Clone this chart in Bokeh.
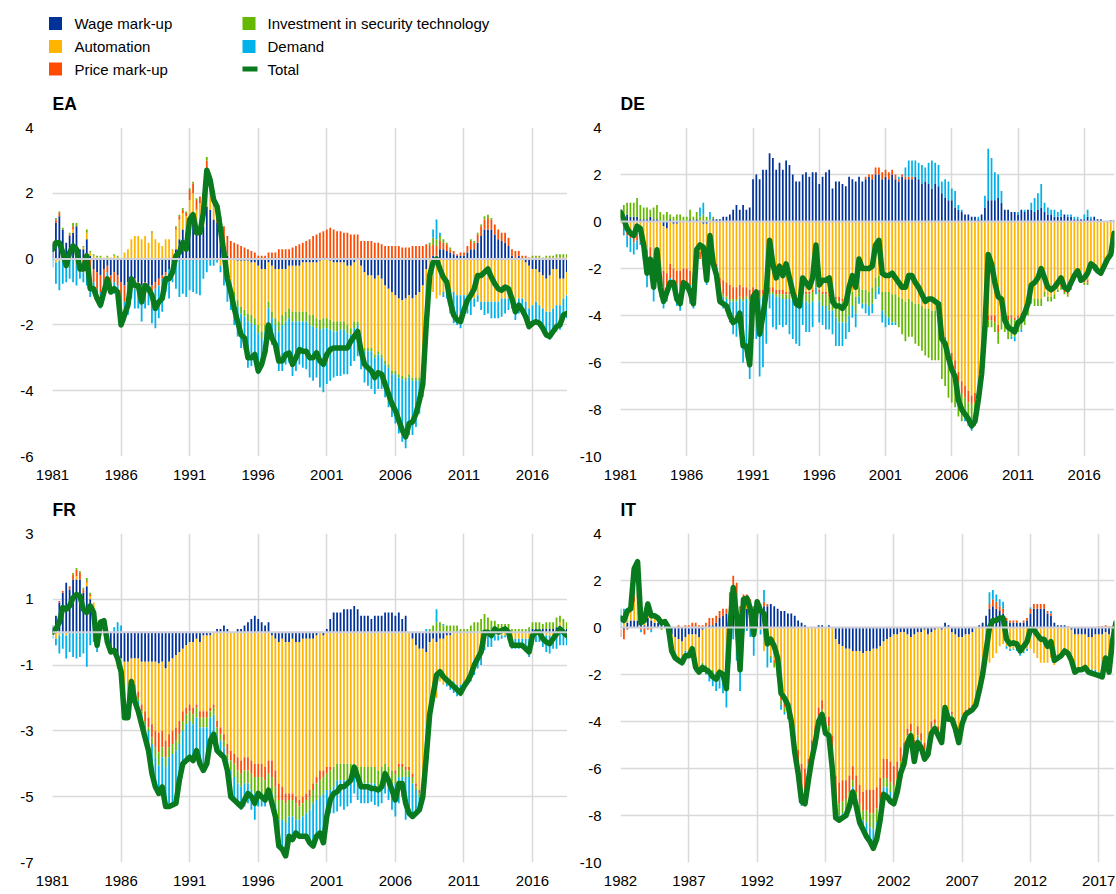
import numpy as np
from bokeh.plotting import figure
from bokeh.models import Range1d, FixedTicker, Span
from bokeh.layouts import column, row
from bokeh.embed import file_html
from bokeh.resources import INLINE
from bokeh.core.properties import value

FONT = "Liberation Sans"
SERIES = ["Wage mark-up", "Automation", "Price mark-up",
          "Investment in security technology", "Demand"]
COLORS = ["#003299", "#FFB400", "#FF4B00", "#65B800", "#00B1EA"]
TOTAL_COLOR = "#0A7A1E"

# ---------------- EA (1981Q1 - 2018Q3) ----------------
ea_start = 1981
ea_total = [
    0.3, 0.5, 0.5, 0.2, -0.2, 0.2, 0.4, 0.3,
    -0.3, -0.3, 0.1, -0.9, -0.9, -1.2, -1.4, -1.0,
    -0.6, -1.0, -0.9, -1.0, -2.0, -1.7, -1.4, -0.6,
    -0.8, -0.8, -1.3, -0.8, -0.9, -1.1, -1.5, -1.3,
    -1.2, -0.6, -0.6, -0.4, 0.1, 0.2, 0.5, 0.3,
    1.2, 1.35, 0.8, 0.8, 1.4, 2.7, 2.4, 1.8,
    1.6, 0.9, 0.2, -0.6, -1.0, -1.5, -1.9, -2.3,
    -2.4, -3.0, -3.0, -2.9, -3.4, -3.2, -2.8, -2.0,
    -2.4, -2.6, -3.1, -3.1, -2.9, -2.85, -3.2, -3.0,
    -2.75, -2.8, -2.8, -3.0, -3.0, -2.85, -3.1, -3.2,
    -2.9, -2.75, -2.7, -2.7, -2.7, -2.7, -2.7, -2.5,
    -2.35, -2.2, -2.8, -3.2, -3.3, -3.4, -3.6, -3.45,
    -3.5, -3.8, -4.1, -4.4, -4.6, -4.9, -5.2, -5.4,
    -5.0, -4.95, -4.7, -4.3, -3.8, -2.0, -0.5, -0.1,
    0.0, -0.3, -0.55, -0.7, -1.3, -1.7, -1.85, -1.9,
    -1.55, -1.25, -1.1, -0.9, -0.5, -0.5, -0.4, -0.3,
    -0.55, -0.75, -0.9, -0.95, -0.85, -0.9, -1.2, -1.6,
    -1.4, -1.55, -1.75, -2.05, -1.95, -1.9, -1.95, -2.1,
    -2.3, -2.35, -2.2, -2.05, -2.0, -1.7, -1.65]
ea_wage = [
    0.5, 1.1, 1.3, 0.9, 0.5, 0.7, 0.8, 1.0,
    0.3, 0.3, 0.6, 0.1, -0.3, -0.4, -0.5, -0.3,
    -0.2, -0.5, -0.4, -0.5, -0.7, -0.8, -0.7, -0.6,
    -0.6, -0.7, -0.8, -0.7, -0.8, -0.8, -0.7, -0.6,
    -0.5, -0.4, -0.3, -0.1, 0.3, 0.6, 0.9, 0.8,
    1.0, 1.2, 0.9, 1.0, 1.0, 1.6, 1.5, 1.2,
    1.1, 0.7, 0.4, 0.1, 0.0, 0.0, -0.05, -0.05,
    -0.05, -0.05, -0.1, -0.1, -0.2, -0.3, -0.3, -0.1,
    -0.2, -0.3, -0.3, -0.3, -0.3, -0.2, -0.2, -0.2,
    -0.2, -0.1, -0.1, -0.1, -0.1, -0.1, -0.05, 0.0,
    0.0, -0.05, -0.1, -0.1, -0.1, -0.1, -0.2, -0.2,
    -0.1, 0.0, -0.2, -0.4, -0.5, -0.5, -0.6, -0.5,
    -0.6, -0.8, -0.9, -1.0, -1.1, -1.2, -1.25, -1.2,
    -1.1, -1.2, -1.1, -1.0, -0.8, -0.3, 0.0, 0.1,
    0.1, 0.3, 0.3, 0.25, 0.2, 0.15, 0.1, 0.1,
    0.1, 0.2, 0.3, 0.3, 0.5, 0.7, 0.9, 0.9,
    0.9, 0.75, 0.6, 0.55, 0.5, 0.4, 0.1, 0.0,
    0.1, 0.0, -0.1, -0.2, -0.3, -0.3, -0.4, -0.5,
    -0.6, -0.5, -0.3, -0.3, -0.6, -0.6, -0.4]
ea_automation = [
    0.0, -0.1, -0.05, 0.0, -0.1, 0.0, 0.1, 0.0,
    0.0, 0.05, 0.2, 0.1, 0.1, 0.05, 0.05, 0.05,
    0.05, 0.05, 0.1, 0.05, 0.0, 0.2, 0.3, 0.6,
    0.7, 0.7, 0.6, 0.7, 0.5, 0.8, 0.6, 0.5,
    0.4, 0.6, 0.6, 0.3, 0.6, 0.6, 0.5, 0.5,
    0.8, 0.8, 0.6, 0.7, 0.6, 0.9, 0.6, 0.4,
    0.0, -0.2, -0.3, -0.5, -0.7, -1.0, -1.2, -1.4,
    -1.5, -1.6, -1.6, -1.7, -1.8, -1.9, -1.7, -1.2,
    -1.4, -1.5, -1.6, -1.4, -1.3, -1.3, -1.4, -1.4,
    -1.4, -1.5, -1.5, -1.6, -1.6, -1.7, -1.8, -1.8,
    -1.8, -1.8, -1.8, -1.8, -1.8, -1.8, -1.8, -1.9,
    -1.8, -1.9, -2.2, -2.3, -2.2, -2.2, -2.3, -2.3,
    -2.3, -2.3, -2.3, -2.4, -2.3, -2.3, -2.3, -2.4,
    -2.4, -2.4, -2.5, -2.6, -2.6, -1.5, -0.6, -1.0,
    -1.2, -1.1, -1.0, -0.9, -0.9, -1.0, -1.1, -1.1,
    -1.1, -1.1, -1.2, -1.2, -1.1, -1.3, -1.3, -1.3,
    -1.3, -1.3, -1.3, -1.2, -1.2, -1.2, -1.2, -1.3,
    -1.2, -1.2, -1.2, -1.3, -1.1, -1.0, -1.0, -1.0,
    -1.0, -1.1, -1.2, -1.1, -0.8, -0.6, -0.7]
ea_price = [
    0.05, 0.1, 0.1, 0.0, -0.1, 0.05, 0.1, 0.0,
    -0.3, -0.4, -0.1, -0.3, -0.4, -0.5, -0.5, -0.4,
    -0.2, -0.3, -0.3, -0.3, -0.6, -0.5, -0.3, -0.2,
    -0.3, -0.2, -0.3, -0.2, -0.2, -0.3, -0.2, -0.2,
    -0.1, -0.1, 0.0, 0.0, 0.05, 0.1, 0.1, 0.1,
    0.3, 0.3, 0.3, 0.2, 0.4, 0.5, 0.5, 0.4,
    0.6, 0.6, 0.6, 0.6, 0.55, 0.5, 0.45, 0.4,
    0.35, 0.3, 0.25, 0.2, 0.1, 0.1, 0.1, 0.2,
    0.2, 0.2, 0.3, 0.3, 0.3, 0.3, 0.35, 0.4,
    0.45, 0.5, 0.55, 0.6, 0.7, 0.75, 0.8, 0.85,
    0.9, 0.95, 0.9, 0.85, 0.85, 0.8, 0.8, 0.75,
    0.75, 0.75, 0.55, 0.55, 0.55, 0.55, 0.5, 0.5,
    0.45, 0.4, 0.4, 0.4, 0.4, 0.4, 0.35, 0.35,
    0.35, 0.4, 0.4, 0.4, 0.4, 0.45, 0.4, 0.35,
    0.3, 0.25, 0.2, 0.2, 0.1, 0.1, 0.05, 0.1,
    0.1, 0.2, 0.25, 0.2, 0.25, 0.3, 0.3, 0.35,
    0.3, 0.3, 0.3, 0.25, 0.3, 0.25, 0.2, 0.25,
    0.15, 0.1, 0.1, 0.05, 0.05, 0.05, 0.05, 0.0,
    0.05, 0.05, 0.05, 0.05, 0.05, 0.05, 0.05]
ea_security = [
    0.0, 0.05, 0.05, 0.05, 0.0, 0.05, 0.1, 0.1,
    0.0, 0.05, 0.1, 0.05, 0.05, 0.05, 0.05, 0.0,
    0.05, 0.0, 0.05, 0.05, 0.0, 0.0, 0.0, 0.0,
    0.0, 0.0, 0.0, 0.0, 0.0, 0.05, 0.0, 0.0,
    0.0, 0.0, 0.0, 0.0, 0.05, 0.05, 0.05, 0.05,
    0.05, 0.05, 0.05, 0.0, 0.0, 0.1, 0.0, 0.0,
    0.0, 0.0, -0.05, -0.1, -0.1, -0.15, -0.2, -0.2,
    -0.2, -0.25, -0.25, -0.2, -0.25, -0.2, -0.2, -0.2,
    -0.2, -0.2, -0.3, -0.3, -0.3, -0.3, -0.3, -0.3,
    -0.3, -0.3, -0.3, -0.3, -0.35, -0.3, -0.3, -0.3,
    -0.3, -0.3, -0.3, -0.3, -0.25, -0.25, -0.25, -0.2,
    -0.2, -0.1, -0.1, -0.1, -0.1, -0.1, -0.1, -0.1,
    -0.1, -0.1, -0.1, -0.1, -0.1, -0.1, -0.1, -0.1,
    -0.1, -0.1, -0.1, -0.1, -0.05, 0.0, 0.1, 0.2,
    0.2, 0.15, 0.1, 0.05, 0.05, 0.0, 0.0, 0.0,
    0.0, 0.0, 0.05, 0.05, 0.05, 0.05, 0.1, 0.1,
    0.05, 0.0, 0.0, 0.0, 0.0, 0.0, 0.0, 0.0,
    0.0, 0.0, 0.0, 0.0, 0.05, 0.05, 0.05, 0.05,
    0.05, 0.05, 0.05, 0.1, 0.1, 0.1, 0.1]
ea_demand = [
    -0.25, -0.65, -0.9, -0.75, -0.5, -0.6, -0.7, -0.8,
    -0.3, -0.3, -0.7, -0.85, -0.35, -0.4, -0.5, -0.35,
    -0.3, -0.25, -0.35, -0.3, -0.7, -0.6, -0.7, -0.4,
    -0.6, -0.6, -0.8, -0.6, -0.4, -0.85, -1.2, -1.0,
    -1.0, -0.5, -0.9, -0.6, -0.9, -1.15, -1.05, -1.15,
    -0.95, -1.0, -1.05, -1.1, -0.6, -0.4, -0.2, -0.2,
    -0.1, -0.2, -0.45, -0.7, -0.75, -0.85, -0.9, -1.05,
    -1.0, -1.4, -1.3, -1.1, -1.25, -0.9, -0.7, -0.7,
    -0.8, -0.8, -1.2, -1.4, -1.3, -1.35, -1.65, -1.5,
    -1.3, -1.4, -1.45, -1.6, -1.65, -1.5, -1.75, -1.95,
    -1.7, -1.55, -1.4, -1.35, -1.4, -1.35, -1.25, -0.95,
    -1.0, -0.95, -0.85, -0.95, -1.05, -1.15, -1.1, -1.05,
    -0.95, -1.0, -1.2, -1.3, -1.5, -1.7, -1.9, -2.05,
    -1.75, -1.65, -1.4, -1.0, -0.75, -0.65, -0.4, 0.25,
    0.6, 0.1, -0.15, -0.3, -0.75, -0.95, -0.9, -1.0,
    -0.65, -0.55, -0.5, -0.25, -0.2, -0.25, -0.4, -0.35,
    -0.5, -0.5, -0.5, -0.55, -0.45, -0.35, -0.3, -0.55,
    -0.45, -0.45, -0.55, -0.6, -0.65, -0.7, -0.65, -0.65,
    -0.8, -0.85, -0.8, -0.8, -0.75, -0.65, -0.7]

# ---------------- DE (1981Q1 - 2018Q2) ----------------
de_start = 1981
de_total = [
    0.4, 0.1, -0.3, -0.5, -0.6, -0.2, -0.3, -1.0,
    -2.2, -1.6, -2.8, -1.2, -2.8, -3.4, -3.0, -2.6,
    -2.6, -3.3, -3.5, -2.6, -2.7, -3.0, -3.5, -1.2,
    -1.0, -1.1, -2.5, -0.6, -1.8, -2.3, -3.4, -3.5,
    -3.6, -4.0, -4.3, -4.2, -3.9, -5.3, -5.3, -6.1,
    -3.2, -3.0, -4.8, -4.0, -3.0, -0.8, -1.8, -2.4,
    -1.9, -2.3, -1.8, -2.4, -3.0, -3.5, -3.6, -2.4,
    -2.6, -2.8, -2.4, -1.0, -2.7, -2.5, -2.5, -2.4,
    -3.4, -3.6, -3.6, -3.7, -3.5, -2.8, -2.3, -2.8,
    -1.6, -2.0, -2.0, -2.0, -1.9, -1.0, -0.8, -2.2,
    -2.3, -2.3, -2.2, -2.4, -2.6, -2.8, -2.8, -2.3,
    -2.3, -2.6, -2.8, -3.1, -3.4, -3.3, -3.3, -3.4,
    -3.5, -5.0, -5.2, -5.8, -6.3, -6.6, -7.6, -8.0,
    -8.2, -8.4, -8.7, -8.5, -7.6, -6.5, -4.5, -1.4,
    -1.8, -2.6, -3.2, -3.3, -4.2, -4.5, -4.6, -4.7,
    -4.3, -4.2, -3.9, -3.5, -2.7, -2.6, -2.4, -2.0,
    -2.4, -2.8, -2.9, -2.8, -2.6, -2.4, -2.8, -2.9,
    -2.6, -2.3, -2.1, -2.5, -2.4, -2.2, -1.8, -1.9,
    -2.1, -2.2, -1.9, -1.6, -1.4, -0.5]
de_wage = [
    0.1, 0.2, 0.3, 0.2, 0.2, 0.2, 0.1, 0.1,
    0.1, 0.2, 0.1, 0.1, 0.0, -0.2, -0.3, 0.1,
    -0.1, -0.1, 0.0, 0.0, 0.0, 0.1, 0.0, 0.1,
    0.0, -0.1, -0.1, 0.0, 0.1, 0.1, 0.1, 0.2,
    0.2, 0.3, 0.5, 0.7, 0.5, 0.7, 0.5, 0.6,
    1.8, 2.0, 1.8, 2.2, 2.2, 2.9, 2.7, 2.2,
    2.5, 2.2, 2.6, 2.4, 2.0, 1.7, 1.7, 2.0,
    2.1, 1.9, 2.1, 2.1, 1.6, 1.9, 2.1, 2.2,
    1.4, 1.7, 1.7, 1.6, 1.5, 1.9, 1.8, 1.7,
    1.9, 1.7, 1.8, 1.9, 1.8, 2.0, 2.0, 1.8,
    1.9, 1.8, 2.0, 1.8, 1.7, 1.9, 1.8, 1.8,
    1.8, 1.9, 1.8, 1.6, 1.7, 1.6, 1.4, 1.6,
    1.5, 1.2, 1.0, 0.9, 0.9, 0.6, 0.5, 0.4,
    0.3, 0.3, 0.2, 0.2, 0.1, 0.3, 0.6, 0.9,
    0.9, 0.9, 1.0, 0.8, 0.5, 0.5, 0.4, 0.4,
    0.3, 0.5, 0.4, 0.5, 0.5, 0.4, 0.5, 0.6,
    0.4, 0.3, 0.3, 0.2, 0.2, 0.2, 0.3, 0.2,
    0.2, 0.1, 0.1, 0.1, 0.1, 0.2, 0.1, 0.2,
    0.1, 0.1, 0.0, 0.0, 0.05, 0.05]
de_automation = [
    -0.1, -0.1, -0.3, -0.3, -0.4, -0.5, -0.6, -0.8,
    -1.2, -1.1, -1.6, -1.2, -1.8, -1.9, -1.9, -1.8,
    -1.9, -2.0, -2.1, -2.0, -2.0, -2.1, -2.2, -1.3,
    -1.3, -1.4, -2.0, -0.8, -1.6, -1.8, -2.4, -2.5,
    -2.6, -2.7, -2.8, -2.8, -2.7, -2.8, -2.8, -2.9,
    -2.8, -2.9, -2.9, -2.9, -2.9, -2.8, -2.8, -2.9,
    -2.9, -2.9, -3.0, -3.0, -3.0, -3.1, -3.1, -3.0,
    -3.0, -3.0, -2.9, -2.3, -2.9, -3.0, -3.0, -3.1,
    -3.1, -3.2, -3.2, -3.3, -3.3, -3.2, -3.0, -3.2,
    -2.8, -2.9, -2.9, -3.0, -2.8, -2.4, -2.3, -3.0,
    -3.0, -3.0, -3.1, -3.1, -3.2, -3.3, -3.4, -3.3,
    -3.4, -3.5, -3.5, -3.6, -3.7, -3.7, -3.8, -3.8,
    -3.9, -4.6, -4.9, -5.4, -5.6, -5.9, -6.4, -6.8,
    -7.0, -7.2, -7.4, -7.3, -7.0, -6.0, -5.0, -4.0,
    -4.0, -4.0, -4.4, -3.8, -3.8, -4.0, -4.0, -4.1,
    -4.0, -3.9, -3.8, -3.5, -3.2, -3.3, -3.3, -3.3,
    -3.0, -3.2, -3.2, -3.1, -2.9, -2.7, -2.9, -3.0,
    -2.7, -2.3, -2.1, -2.4, -2.5, -2.5, -1.9, -1.9,
    -2.0, -2.1, -1.8, -1.5, -1.4, -0.5]
de_price = [
    0.0, -0.1, -0.3, -0.4, -0.5, -0.3, -0.3, -0.5,
    -0.7, -0.6, -0.8, -0.5, -0.8, -0.9, -0.7, -0.6,
    -0.7, -0.8, -0.8, -0.6, -0.7, -0.6, -0.8, -0.3,
    -0.3, -0.4, -0.5, -0.2, -0.3, -0.4, -0.6, -0.6,
    -0.6, -0.6, -0.5, -0.5, -0.5, -0.5, -0.4, -0.4,
    -0.3, -0.3, -0.3, -0.2, -0.2, -0.2, -0.2, -0.2,
    -0.2, -0.2, -0.1, -0.1, -0.1, -0.1, -0.1, -0.1,
    -0.1, -0.1, -0.1, -0.1, -0.1, -0.1, -0.1, -0.1,
    -0.1, -0.1, -0.2, -0.1, -0.1, -0.1, 0.0, 0.0,
    0.0, 0.0, 0.1, 0.1, 0.2, 0.3, 0.3, 0.3,
    0.3, 0.3, 0.2, 0.2, 0.1, 0.1, 0.1, 0.1,
    0.1, 0.0, 0.0, 0.0, 0.0, 0.0, 0.0, 0.0,
    0.0, -0.1, -0.1, -0.2, -0.3, -0.4, -0.5, -0.5,
    -0.5, -0.5, -0.4, -0.4, -0.4, -0.4, -0.3, -0.2,
    -0.2, -0.3, -0.3, -0.2, -0.2, -0.2, -0.1, -0.1,
    -0.1, -0.1, -0.1, -0.1, 0.0, 0.0, 0.0, 0.0,
    0.0, 0.0, 0.0, 0.0, 0.0, -0.1, -0.1, -0.1,
    -0.1, -0.1, -0.1, -0.1, -0.1, -0.1, -0.1, -0.1,
    -0.1, -0.1, -0.1, -0.1, 0.0, 0.0]
de_security = [
    0.4, 0.5, 0.5, 0.6, 0.6, 0.8, 0.6, 0.5,
    0.5, 0.3, 0.5, 0.6, 0.4, 0.3, 0.4, 0.2,
    0.2, 0.3, 0.3, 0.2, 0.2, 0.4, 0.2, 0.3,
    0.2, 0.3, 0.2, 0.1, 0.1, 0.0, 0.0, -0.1,
    -0.1, -0.1, -0.1, -0.1, -0.1, -0.1, -0.1, -0.1,
    -0.1, -0.1, -0.1, -0.1, -0.1, -0.1, -0.1, -0.1,
    -0.1, -0.2, -0.2, -0.2, -0.2, -0.3, -0.3, -0.3,
    -0.3, -0.4, -0.4, -0.4, -0.4, -0.5, -0.5, -0.6,
    -0.6, -0.8, -0.9, -0.9, -0.9, -0.7, -0.6, -0.7,
    -0.4, -0.6, -0.6, -0.6, -0.7, -0.6, -0.5, -0.8,
    -1.0, -1.1, -1.2, -1.2, -1.3, -1.5, -1.7, -1.6,
    -1.5, -1.7, -1.8, -1.9, -2.0, -2.1, -2.1, -2.1,
    -2.0, -2.0, -2.0, -1.9, -1.8, -1.6, -1.4, -1.2,
    -0.7, -0.6, -0.6, -0.5, -0.4, -0.4, -0.3, -0.3,
    -0.3, -0.4, -0.5, -0.6, -0.7, -0.8, -0.8, -0.7,
    -0.6, -0.6, -0.5, -0.4, -0.3, -0.3, -0.3, -0.3,
    -0.2, -0.2, -0.2, -0.2, -0.1, -0.1, -0.1, -0.1,
    -0.1, -0.1, -0.1, -0.1, -0.1, -0.1, 0.0, -0.1,
    0.0, 0.0, 0.0, 0.0, 0.0, 0.0]
de_demand = [
    0.0, -0.4, -0.5, -0.6, -0.5, -0.4, -0.1, -0.3,
    -0.9, -0.4, -1.0, -0.2, -0.6, -0.7, -0.5, -0.5,
    -0.1, -0.7, -0.9, -0.2, -0.2, -0.8, -0.7, 0.0,
    0.4, 0.5, -0.1, 0.3, -0.1, -0.2, -0.5, -0.5,
    -0.5, -0.9, -1.4, -1.5, -1.1, -2.6, -2.5, -3.3,
    -1.8, -1.7, -3.3, -3.0, -2.0, -0.6, -1.4, -1.4,
    -1.2, -1.2, -1.1, -1.5, -1.7, -1.7, -1.8, -1.0,
    -1.3, -1.2, -1.1, -0.3, -0.9, -0.8, -1.0, -0.8,
    -1.0, -1.2, -1.0, -1.0, -0.7, -0.7, -0.5, -0.6,
    -0.3, -0.2, -0.4, -0.4, -0.4, -0.3, -0.3, -0.5,
    -0.5, -0.3, -0.1, -0.1, 0.1, 0.0, 0.4, 0.7,
    0.7, 0.7, 0.7, 0.8, 0.6, 0.9, 1.2, 0.9,
    0.9, 0.5, 0.8, 0.8, 0.5, 0.7, 0.2, 0.1,
    -0.3, -0.4, -0.5, -0.5, 0.1, 0.0, 0.5, 2.2,
    1.8, 1.2, 1.0, 0.5, 0.0, 0.0, -0.1, -0.2,
    0.1, -0.1, 0.1, 0.0, 0.3, 0.6, 0.7, 1.0,
    0.4, 0.3, 0.2, 0.3, 0.2, 0.3, 0.0, 0.1,
    0.1, 0.1, 0.1, 0.0, 0.2, 0.3, 0.1, 0.0,
    -0.1, -0.1, 0.0, 0.0, -0.05, -0.05]

# ---------------- FR (1981Q1 - 2018Q3) ----------------
fr_start = 1981
fr_total = [
    0.0, 0.1, 0.3, 0.75, 0.7, 0.8, 1.05, 1.15,
    1.1, 0.7, 0.6, 0.8, 0.6, -0.4, 0.3, 0.35,
    -0.3, -0.6, -0.55, -0.8, -1.2, -2.6, -2.6, -1.5,
    -2.1, -2.4, -2.8, -3.2, -3.6, -4.3, -4.7, -4.9,
    -4.7, -5.3, -5.3, -5.25, -5.2, -4.5, -4.0, -3.9,
    -3.8, -3.9, -3.6, -4.0, -4.2, -4.0, -3.3, -3.1,
    -3.6, -3.7, -3.8, -4.2, -5.0, -5.1, -5.2, -5.3,
    -5.1, -4.9, -5.0, -5.2, -4.9, -5.0, -5.1, -4.8,
    -5.2, -5.6, -6.5, -6.6, -6.8, -6.2, -6.3, -6.1,
    -6.2, -6.2, -6.2, -6.4, -6.5, -6.2, -6.1, -6.4,
    -5.6, -5.1, -4.9, -4.85, -4.7, -4.7, -4.6, -4.5,
    -4.1, -4.4, -4.7, -4.7, -4.7, -4.75, -4.75, -4.8,
    -4.7, -4.3, -4.5, -4.8, -5.1, -4.6, -4.6, -5.2,
    -5.5, -5.6, -5.5, -5.4, -5.0, -3.8, -2.5, -1.9,
    -1.3, -1.2, -1.35, -1.45, -1.55, -1.65, -1.75, -1.85,
    -1.65, -1.5, -1.3, -1.0, -0.8, -0.6, 0.0, 0.0,
    -0.1, 0.1, 0.0, 0.05, 0.1, 0.0, -0.4, -0.4,
    -0.4, -0.4, -0.5, -0.6, -0.1, 0.0, 0.0, -0.2,
    -0.3, -0.35, -0.2, -0.05, 0.1, 0.0, -0.1]
fr_wage = [
    0.2, 0.5, 0.9, 1.2, 1.5, 1.3, 1.6, 1.6,
    1.6, 1.2, 1.4, 1.0, 0.7, 0.2, 0.3, 0.1,
    -0.3, -0.5, -0.6, -0.8, -0.8, -0.9, -0.9, -0.8,
    -0.8, -0.8, -0.9, -0.9, -0.9, -0.9, -0.9, -0.95,
    -0.9, -1.1, -0.9, -0.8, -0.7, -0.6, -0.5, -0.4,
    -0.3, -0.3, -0.2, -0.3, -0.1, -0.1, -0.1, 0.0,
    0.1, 0.1, 0.2, 0.1, 0.0, 0.0, 0.1, 0.1,
    0.2, 0.3, 0.4, 0.5, 0.4, 0.3, 0.2, 0.3,
    -0.1, -0.2, -0.3, -0.2, -0.3, -0.3, -0.2, -0.3,
    -0.3, -0.2, -0.2, -0.2, -0.2, -0.1, 0.0, -0.1,
    0.1, 0.4, 0.6, 0.6, 0.6, 0.7, 0.7, 0.7,
    0.8, 0.7, 0.5, 0.5, 0.5, 0.4, 0.5, 0.5,
    0.5, 0.6, 0.6, 0.6, 0.5, 0.6, 0.4, 0.5,
    0.0, -0.2, -0.4, -0.5, -0.5, -0.6, -0.3, -0.2,
    -0.3, -0.2, -0.2, -0.1, -0.1, 0.0, 0.0, 0.0,
    0.0, 0.0, 0.0, 0.0, 0.0, 0.0, 0.05, 0.05,
    0.05, 0.05, 0.05, 0.05, 0.05, 0.05, 0.0, 0.0,
    0.0, 0.0, 0.0, 0.05, 0.1, 0.1, 0.1, 0.1,
    0.1, 0.1, 0.1, 0.15, 0.2, 0.1, 0.1]
fr_automation = [
    -0.1, -0.2, -0.1, 0.0, -0.1, 0.0, 0.0, 0.1,
    0.0, 0.0, 0.1, 0.1, 0.2, 0.0, 0.1, 0.1,
    0.0, -0.1, -0.1, -0.2, -0.4, -1.2, -1.3, -0.6,
    -0.8, -1.0, -1.3, -1.5, -1.7, -1.9, -2.1, -2.1,
    -2.1, -2.2, -2.2, -2.2, -2.2, -2.1, -1.9, -1.9,
    -1.9, -2.0, -2.0, -2.1, -2.3, -2.3, -2.2, -2.2,
    -2.7, -2.9, -3.1, -3.4, -3.6, -3.7, -3.8, -3.9,
    -3.8, -3.8, -3.9, -4.0, -4.0, -4.0, -4.1, -3.9,
    -3.8, -4.0, -4.3, -4.5, -4.6, -4.6, -4.7, -4.7,
    -4.8, -4.8, -4.7, -4.6, -4.4, -4.3, -4.2, -4.1,
    -4.1, -4.1, -4.1, -4.0, -4.0, -4.0, -4.0, -4.0,
    -4.0, -4.1, -4.1, -4.1, -4.1, -4.1, -4.1, -4.2,
    -4.1, -4.0, -4.1, -4.2, -4.2, -4.0, -4.0, -4.1,
    -4.1, -4.1, -4.2, -4.3, -4.2, -3.3, -2.1, -1.8,
    -1.7, -1.3, -1.4, -1.4, -1.4, -1.5, -1.6, -1.6,
    -1.5, -1.4, -1.2, -0.9, -0.7, -0.5, -0.2, -0.1,
    -0.1, -0.1, -0.1, -0.1, -0.1, -0.1, -0.2, -0.2,
    -0.2, -0.2, -0.2, -0.2, -0.1, -0.1, -0.1, -0.1,
    -0.1, -0.1, -0.1, -0.1, 0.1, 0.0, -0.1]
fr_price = [
    0.0, 0.0, 0.05, 0.05, 0.0, 0.1, 0.15, 0.2,
    0.2, 0.1, 0.05, 0.05, 0.0, 0.0, 0.0, 0.0,
    0.0, 0.0, 0.0, 0.0, -0.1, -0.2, -0.2, -0.1,
    -0.2, -0.2, -0.2, -0.3, -0.3, -0.4, -0.5, -0.6,
    -0.5, -0.5, -0.4, -0.4, -0.4, -0.4, -0.3, -0.2,
    -0.2, -0.2, -0.1, -0.2, -0.2, -0.2, -0.1, -0.1,
    -0.2, -0.2, -0.2, -0.3, -0.3, -0.3, -0.4, -0.4,
    -0.4, -0.4, -0.4, -0.4, -0.4, -0.4, -0.4, -0.4,
    -0.5, -0.5, -0.5, -0.4, -0.3, -0.2, -0.2, -0.2,
    -0.2, -0.2, -0.2, -0.2, -0.2, -0.2, -0.3, -0.2,
    -0.2, -0.1, 0.0, 0.0, 0.0, 0.0, 0.0, 0.0,
    0.0, 0.0, 0.0, 0.0, 0.0, 0.0, 0.0, 0.0,
    0.0, 0.0, 0.0, 0.0, -0.1, -0.1, -0.1, -0.1,
    -0.1, -0.1, -0.1, -0.1, -0.1, 0.0, 0.0, 0.0,
    0.0, 0.0, 0.0, 0.0, 0.0, 0.0, 0.0, 0.0,
    0.0, 0.0, 0.0, 0.0, 0.0, 0.0, 0.0, 0.0,
    0.0, 0.0, 0.0, 0.0, 0.0, 0.0, 0.0, 0.0,
    0.0, 0.0, 0.0, 0.0, 0.0, 0.0, 0.0, 0.0,
    0.0, 0.0, 0.0, 0.0, 0.0, 0.0, 0.0]
fr_security = [
    0.0, 0.0, 0.0, 0.0, 0.0, 0.0, 0.05, 0.05,
    0.05, 0.05, 0.1, 0.05, 0.0, 0.0, 0.0, 0.0,
    0.0, 0.0, 0.0, -0.1, -0.1, -0.1, -0.1, 0.0,
    -0.1, -0.1, -0.1, -0.1, -0.1, -0.2, -0.3, -0.4,
    -0.3, -0.3, -0.3, -0.3, -0.3, -0.3, -0.3, -0.3,
    -0.3, -0.3, -0.3, -0.3, -0.3, -0.3, -0.2, -0.2,
    -0.2, -0.2, -0.2, -0.2, -0.3, -0.4, -0.4, -0.4,
    -0.4, -0.4, -0.5, -0.5, -0.5, -0.5, -0.5, -0.5,
    -0.5, -0.5, -0.6, -0.6, -0.6, -0.5, -0.5, -0.5,
    -0.4, -0.4, -0.4, -0.4, -0.4, -0.5, -0.5, -0.5,
    -0.5, -0.6, -0.6, -0.5, -0.5, -0.5, -0.5, -0.5,
    -0.4, -0.4, -0.5, -0.5, -0.5, -0.5, -0.5, -0.5,
    -0.5, -0.4, -0.4, -0.4, -0.3, -0.3, -0.3, -0.2,
    -0.2, -0.2, -0.1, -0.1, -0.1, 0.0, 0.1, 0.2,
    0.3, 0.3, 0.2, 0.2, 0.2, 0.2, 0.2, 0.1,
    0.1, 0.1, 0.2, 0.3, 0.3, 0.4, 0.5, 0.4,
    0.3, 0.3, 0.2, 0.2, 0.2, 0.2, 0.1, 0.1,
    0.1, 0.1, 0.1, 0.1, 0.2, 0.2, 0.2, 0.15,
    0.2, 0.2, 0.2, 0.3, 0.2, 0.3, 0.2]
fr_demand = [
    -0.1, -0.2, -0.55, -0.5, -0.7, -0.6, -0.75, -0.8,
    -0.75, -0.65, -1.05, -0.4, -0.3, -0.6, -0.1, 0.15,
    0.0, 0.0, 0.15, 0.3, 0.2, -0.2, -0.1, 0.0,
    -0.2, -0.3, -0.3, -0.4, -0.6, -0.9, -0.9, -0.85,
    -0.9, -1.2, -1.5, -1.55, -1.6, -1.1, -1.0, -1.1,
    -1.1, -1.1, -1.0, -1.1, -1.3, -1.1, -0.7, -0.6,
    -0.6, -0.5, -0.5, -0.4, -0.8, -0.7, -0.7, -0.7,
    -0.7, -0.6, -0.6, -0.8, -0.4, -0.4, -0.3, -0.3,
    -0.3, -0.4, -0.8, -0.9, -1.0, -0.6, -0.7, -0.4,
    -0.5, -0.6, -0.7, -1.0, -1.3, -1.1, -1.1, -1.5,
    -0.9, -0.7, -0.8, -0.95, -0.8, -0.9, -0.8, -0.7,
    -0.5, -0.6, -0.6, -0.6, -0.6, -0.55, -0.65, -0.6,
    -0.6, -0.5, -0.6, -0.8, -1.0, -0.8, -0.6, -1.3,
    -1.1, -1.0, -0.7, -0.4, -0.1, 0.1, -0.2, -0.1,
    0.4, 0.0, 0.05, -0.15, -0.25, -0.35, -0.35, -0.35,
    -0.25, -0.2, -0.3, -0.4, -0.4, -0.5, -0.35, -0.35,
    -0.35, -0.15, -0.15, -0.1, -0.05, -0.15, -0.3, -0.3,
    -0.3, -0.3, -0.4, -0.55, -0.3, -0.2, -0.2, -0.35,
    -0.5, -0.55, -0.4, -0.4, -0.4, -0.4, -0.3]

# ---------------- IT (1982Q1 - 2018Q2) ----------------
it_start = 1982
it_total = [
    0.4, 0.3, 0.7, 0.8, 2.5, 2.8, 0.2, 0.3,
    1.0, 0.5, 0.5, 0.4, 0.2, 0.25, 0.0, -1.0,
    -1.3, -1.4, -1.5, -1.2, -1.2, -0.9, -1.7, -1.9,
    -1.7, -1.8, -1.9, -2.1, -2.2, -1.9, -2.0, -2.6,
    0.0, 1.7, 0.5, -1.8, 1.2, 1.25, 0.8, -0.3,
    1.1, 0.7, 0.6, -0.7, -0.5, -0.8, -1.3, -2.8,
    -3.0, -3.3, -4.0, -5.3, -6.2, -7.4, -7.5, -6.5,
    -5.6, -4.9, -4.0, -3.7, -4.5, -4.6, -6.0, -8.1,
    -8.2, -8.1, -8.0, -7.6, -7.0, -7.6, -8.3, -8.6,
    -8.9, -9.1, -9.4, -9.0, -8.2, -7.1, -7.2, -7.4,
    -7.5, -7.0, -6.2, -5.8, -4.9, -4.6, -5.7, -4.9,
    -5.1, -5.6, -5.4, -4.5, -4.3, -4.6, -4.9, -3.4,
    -3.9, -3.9, -4.3, -4.9, -4.1, -3.7, -3.6, -3.5,
    -3.3, -2.7, -2.0, -1.0, 0.0, 0.3, 0.3, 0.4,
    0.4, -0.5, -0.7, -0.65, -0.7, -1.0, -0.8, -0.6,
    -0.05, -0.1, -0.3, -0.5, -0.5, -0.8, -0.6, -1.4,
    -1.3, -1.2, -1.0, -1.1, -1.4, -1.9, -1.8, -1.8,
    -1.7, -1.9, -1.95, -2.0, -2.05, -2.1, -1.3, -1.9,
    -0.6, 0.2]
it_wage = [
    0.0, -0.1, 0.2, 0.3, 0.3, 0.3, 0.2, 0.1,
    0.4, 0.3, 0.2, 0.2, 0.2, 0.1, 0.0, -0.3,
    -0.4, -0.5, -0.6, -0.4, -0.3, -0.3, -0.3, -0.4,
    -0.1, 0.0, 0.1, 0.1, 0.2, 0.4, 0.5, 0.6,
    0.6, 0.7, 0.6, 0.6, 0.8, 0.8, 0.8, 0.8,
    0.8, 0.8, 0.9, 0.9, 1.0, 0.9, 0.8, 0.7,
    0.7, 0.6, 0.6, 0.5, 0.3, 0.2, 0.1, 0.0,
    0.0, 0.0, 0.1, 0.1, 0.0, 0.1, 0.0, -0.5,
    -0.7, -0.8, -0.9, -0.9, -1.0, -1.0, -1.0, -1.1,
    -1.0, -1.0, -0.9, -0.9, -0.8, -0.6, -0.5, -0.4,
    -0.3, -0.3, -0.2, -0.2, -0.3, -0.4, -0.3, -0.2,
    -0.2, -0.1, -0.3, -0.2, -0.1, 0.0, -0.1, 0.2,
    0.1, -0.2, -0.3, -0.4, -0.4, -0.3, -0.3, -0.2,
    0.0, 0.1, 0.2, 0.5, 0.8, 0.9, 0.8, 0.7,
    0.6, 0.3, 0.2, 0.2, 0.2, 0.2, 0.2, 0.3,
    0.6, 0.8, 0.8, 0.8, 0.8, 0.6, 0.5, 0.2,
    0.1, 0.1, 0.1, 0.0, -0.1, -0.3, -0.3, -0.3,
    -0.3, -0.4, -0.4, -0.3, -0.3, -0.3, -0.2, -0.3,
    -0.1, 0.0]
it_automation = [
    -0.1, 0.2, 0.3, 0.4, 0.8, 0.9, 0.2, 0.2,
    0.5, 0.4, 0.3, 0.2, 0.1, 0.1, 0.0, -0.5,
    -0.8, -0.8, -0.7, -0.6, -0.9, -0.6, -1.2, -1.3,
    -1.4, -1.6, -1.7, -1.8, -1.9, -2.0, -2.0, -2.1,
    -0.2, 0.5, 0.4, -0.3, 0.3, 0.3, 0.2, 0.0,
    0.1, -0.1, -1.0, -0.6, -1.2, -1.4, -1.8, -2.9,
    -3.2, -3.5, -4.0, -4.6, -5.2, -5.8, -6.0, -5.6,
    -4.8, -4.2, -3.4, -3.1, -3.8, -3.8, -4.6, -5.8,
    -5.9, -5.7, -5.6, -5.4, -4.9, -5.3, -5.7, -5.9,
    -5.9, -5.9, -6.0, -5.9, -5.6, -5.0, -5.1, -5.3,
    -5.6, -5.4, -4.9, -4.7, -4.0, -3.7, -4.5, -4.0,
    -4.3, -4.8, -4.5, -3.8, -3.8, -4.2, -4.3, -3.4,
    -3.7, -3.4, -3.7, -4.1, -3.4, -3.2, -3.1, -3.1,
    -3.2, -2.6, -2.1, -1.4, -1.5, -1.3, -1.1, -0.8,
    -0.7, -0.8, -0.9, -0.9, -0.9, -1.1, -1.0, -0.9,
    -0.9, -1.1, -1.3, -1.5, -1.5, -1.5, -1.3, -1.6,
    -1.4, -1.3, -1.1, -1.1, -1.3, -1.5, -1.4, -1.4,
    -1.3, -1.4, -1.4, -1.5, -1.6, -1.6, -1.0, -1.4,
    -0.4, 0.1]
it_price = [
    -0.3, -0.4, -0.1, 0.0, 0.2, 0.3, -0.1, -0.3,
    -0.1, -0.1, 0.0, 0.0, 0.0, 0.0, 0.0, -0.1,
    0.0, 0.1, 0.0, 0.1, 0.1, 0.2, 0.2, 0.1,
    0.1, 0.2, 0.3, 0.3, 0.3, 0.3, 0.3, 0.2,
    0.9, 1.0, 0.9, 0.3, 0.3, 0.3, 0.2, 0.1,
    0.2, 0.2, 0.2, 0.1, 0.0, -0.1, -0.1, -0.2,
    -0.2, -0.2, -0.3, -0.6, -0.8, -1.0, -0.9, -0.6,
    -0.5, -0.5, -0.4, -0.4, -0.4, -0.4, -0.8, -1.0,
    -0.9, -0.9, -0.8, -0.7, -0.6, -0.7, -0.8, -0.8,
    -0.9, -1.0, -1.0, -0.9, -0.9, -0.8, -0.8, -0.9,
    -0.8, -0.7, -0.6, -0.5, -0.3, -0.3, -0.5, -0.4,
    -0.3, -0.4, -0.4, -0.3, -0.2, -0.2, -0.3, -0.1,
    -0.1, -0.1, -0.1, -0.2, -0.1, -0.1, -0.1, -0.1,
    -0.1, -0.1, 0.0, 0.0, 0.2, 0.3, 0.3, 0.2,
    0.2, 0.1, 0.1, 0.1, 0.1, 0.0, 0.1, 0.1,
    0.2, 0.2, 0.2, 0.2, 0.2, 0.1, 0.1, 0.0,
    0.0, 0.0, 0.0, 0.05, 0.0, -0.05, 0.0, 0.0,
    0.0, 0.0, 0.0, 0.0, 0.05, 0.05, 0.1, 0.05,
    0.05, 0.05]
it_security = [
    0.0, 0.0, 0.0, 0.0, 0.1, 0.1, 0.0, 0.0,
    0.0, 0.0, 0.0, 0.0, -0.1, 0.0, 0.0, 0.0,
    0.0, 0.0, 0.0, 0.0, 0.0, 0.0, 0.0, 0.0,
    -0.1, -0.1, -0.1, -0.1, -0.1, -0.1, -0.1, -0.1,
    0.0, 0.0, 0.0, 0.0, 0.0, 0.0, 0.0, 0.0,
    0.0, 0.0, 0.0, 0.0, -0.1, -0.2, -0.2, -0.2,
    -0.2, -0.2, -0.2, -0.3, -0.3, -0.4, -0.4, -0.3,
    -0.2, -0.2, -0.2, -0.2, -0.2, -0.3, -0.4, -0.5,
    -0.5, -0.5, -0.5, -0.4, -0.3, -0.3, -0.4, -0.4,
    -0.5, -0.6, -0.7, -0.6, -0.5, -0.4, -0.4, -0.4,
    -0.4, -0.3, -0.2, -0.2, -0.1, -0.1, -0.2, -0.1,
    -0.1, -0.1, -0.1, -0.1, -0.1, -0.1, -0.1, -0.1,
    -0.1, -0.1, -0.1, -0.1, -0.1, -0.1, 0.0, 0.0,
    0.0, 0.0, 0.0, 0.0, 0.0, 0.0, 0.0, 0.0,
    0.0, 0.0, 0.0, 0.0, 0.0, 0.0, 0.0, 0.0,
    0.0, 0.0, 0.0, 0.0, 0.0, 0.0, 0.0, 0.0,
    0.0, 0.0, 0.0, 0.0, 0.0, 0.0, 0.0, 0.0,
    0.0, 0.0, 0.0, 0.0, 0.0, 0.0, 0.0, 0.0,
    0.0, 0.0]
it_demand = [
    0.8, 0.6, 0.3, 0.1, 1.1, 1.2, -0.1, 0.3,
    0.2, -0.1, 0.0, 0.0, 0.0, 0.05, 0.0, -0.1,
    -0.1, -0.2, -0.2, -0.3, -0.1, -0.2, -0.4, -0.3,
    -0.2, -0.3, -0.5, -0.6, -0.7, -0.5, -0.7, -1.2,
    -1.3, -0.5, -1.4, -2.4, -0.2, -0.15, -0.4, -1.2,
    0.0, -0.2, 0.5, -1.1, -0.2, 0.0, 0.0, -0.2,
    -0.1, 0.0, -0.1, -0.3, -0.2, -0.4, -0.3, 0.0,
    -0.1, 0.0, -0.1, -0.1, -0.1, -0.2, -0.2, -0.3,
    -0.2, -0.2, -0.2, -0.2, -0.2, -0.3, -0.4, -0.4,
    -0.6, -0.6, -0.8, -0.7, -0.4, -0.3, -0.4, -0.4,
    -0.4, -0.3, -0.3, -0.2, -0.2, -0.1, -0.2, -0.2,
    -0.2, -0.2, -0.1, -0.1, -0.1, -0.1, -0.1, 0.0,
    -0.1, -0.1, -0.1, -0.1, -0.1, 0.0, -0.1, -0.1,
    0.0, -0.1, -0.1, -0.1, 0.5, 0.4, 0.3, 0.3,
    0.3, -0.1, -0.1, -0.05, -0.1, -0.1, -0.1, -0.1,
    0.05, 0.0, 0.0, 0.0, 0.0, 0.0, 0.1, 0.0,
    0.0, 0.0, 0.0, -0.05, 0.0, -0.05, -0.1, -0.1,
    -0.1, -0.1, -0.15, -0.2, -0.2, -0.25, -0.2, -0.25,
    -0.15, 0.05]

ea_ticks_x = [1981, 1986, 1991, 1996, 2001, 2006, 2011, 2016]
it_ticks_x = [1982, 1987, 1992, 1997, 2002, 2007, 2012, 2017]


def make_panel(title, start, comps, total, y_lo, y_hi, y_step, x_ticks, x_end,
               width, height, b_left, b_top, b_bottom, b_right):
    n = min([len(total)] + [len(c) for c in comps])
    xs = np.array([start + i * 0.25 for i in range(n)])
    p = figure(width=width, height=height, output_backend="svg",
               toolbar_location=None,
               x_range=Range1d(start, x_end), y_range=Range1d(y_lo, y_hi),
               min_border_left=b_left, min_border_top=b_top,
               min_border_bottom=b_bottom, min_border_right=b_right)
    p.outline_line_color = None
    p.background_fill_color = "white"
    pos = np.zeros(n)
    neg = np.zeros(n)
    for vals, col in zip(comps, COLORS):
        v = np.array(vals[:n], dtype=float)
        vp = np.where(v > 0, v, 0.0)
        vn = np.where(v < 0, v, 0.0)
        p.vbar(x=xs, bottom=pos, top=pos + vp, width=0.13,
               fill_color=col, line_color=None)
        p.vbar(x=xs, bottom=neg, top=neg + vn, width=0.13,
               fill_color=col, line_color=None)
        pos = pos + vp
        neg = neg + vn
    zero = Span(location=0, dimension="width", line_color="#cfd0da",
                line_width=2, level="glyph")
    p.add_layout(zero)
    p.line(xs, np.array(total[:n]), line_width=5.5, line_color=TOTAL_COLOR,
           line_join="round", line_cap="round")

    y_ticks = list(range(y_lo, y_hi + 1, y_step))
    p.xaxis.ticker = FixedTicker(ticks=x_ticks)
    p.yaxis.ticker = FixedTicker(ticks=y_ticks)
    p.yaxis.major_label_overrides = {t: str(t) for t in y_ticks}
    p.xaxis.major_label_overrides = {t: str(t) for t in x_ticks}
    for ax in (p.xaxis[0], p.yaxis[0]):
        ax.axis_line_color = None
        ax.major_tick_line_color = None
        ax.minor_tick_line_color = None
        ax.major_label_text_font = FONT
        ax.major_label_text_font_size = "15px"
        ax.major_label_text_color = "#000000"
    p.yaxis.major_label_standoff = 13
    p.xaxis.major_label_standoff = 7
    p.xgrid.grid_line_color = "#d9d9d9"
    p.ygrid.grid_line_color = "#d9d9d9"
    p.xgrid.grid_line_width = 1.5
    p.ygrid.grid_line_width = 1.5

    p.title.text = title
    p.title.text_font = FONT
    p.title.text_font_size = "17.5px"
    p.title.text_font_style = "bold"
    p.title.text_color = "#000000"
    p.title.align = "left"
    p.title.standoff = 27
    return p


# top row: figures start at y=78, frame 127..456
ea = make_panel("EA", ea_start,
                [ea_wage, ea_automation, ea_price, ea_security, ea_demand],
                ea_total, -6, 4, 2, ea_ticks_x, 2018.55,
                567, 405, 52, 49, 27, 0)
de = make_panel("DE", de_start,
                [de_wage, de_automation, de_price, de_security, de_demand],
                de_total, -10, 4, 2, ea_ticks_x, 2018.28,
                549, 405, 53, 49, 27, 2)
# bottom row: figures start at y=483, frame 533..862
fr = make_panel("FR", fr_start,
                [fr_wage, fr_automation, fr_price, fr_security, fr_demand],
                fr_total, -7, 3, 2, ea_ticks_x, 2018.55,
                567, 406, 52, 50, 27, 0)
it = make_panel("IT", it_start,
                [it_wage, it_automation, it_price, it_security, it_demand],
                it_total, -10, 4, 2, it_ticks_x, 2018.15,
                549, 406, 53, 50, 27, 2)

# ---------------- legend ----------------
lg = figure(width=1116, height=78, output_backend="svg", toolbar_location=None,
            x_range=Range1d(0, 1116), y_range=Range1d(78, 0),
            min_border_left=0, min_border_right=0, min_border_top=0,
            min_border_bottom=0)
lg.axis.visible = False
lg.grid.visible = False
lg.outline_line_color = None
col_x = [55, 55, 55, 248.5, 248.5]
row_y = [23, 46, 68.5, 23, 46]
lg.rect(x=col_x, y=row_y, width=13, height=13, fill_color=COLORS,
        line_color=None)
lg.rect(x=[249.5], y=[68.5], width=15, height=5, fill_color=TOTAL_COLOR,
        line_color=None)
lg.text(x=[74, 74, 74, 267, 267, 267], y=[23, 46, 68.5, 23, 46, 68.5],
        text=SERIES + ["Total"], text_baseline="middle", text_align="left",
        text_font=value(FONT), text_font_size="15px", text_color="#000000")

layout = column(lg, row(ea, de), row(fr, it))
open("out.html", "w").write(file_html(layout, INLINE))
